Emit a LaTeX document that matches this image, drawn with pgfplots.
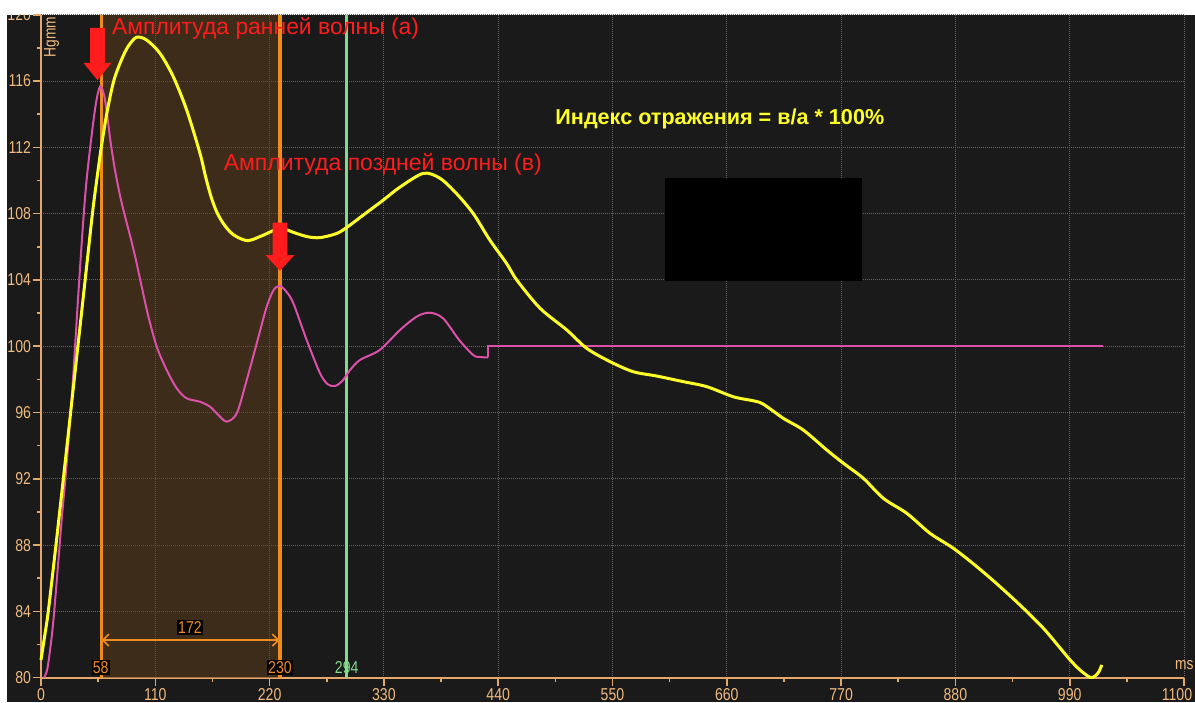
\documentclass[border=0pt]{standalone}
\usepackage{fontspec}
\setmainfont{Liberation Sans}
\newfontfamily\tickfont[FakeStretch=0.82]{Liberation Sans}
\usepackage{pgfplots}
\pgfplotsset{compat=1.18}
\usetikzlibrary{arrows.meta}
\definecolor{bgdark}{RGB}{26,26,26}
\definecolor{shadeT}{RGB}{96,62,26}
\definecolor{tanc}{RGB}{228,168,108}
\definecolor{ticktxt}{RGB}{240,186,128}
\definecolor{gridc}{RGB}{100,100,100}
\definecolor{orangeL}{RGB}{240,140,30}
\definecolor{greenL}{RGB}{128,220,140}
\definecolor{yel}{RGB}{255,255,40}
\definecolor{mag}{RGB}{220,80,170}
\definecolor{redA}{RGB}{255,28,28}
\begin{document}
\begin{tikzpicture}
\fill[white] (0,0) rectangle (597.5pt,351pt);
\fill[bgdark] (3.5pt,0) rectangle (597.5pt,343.5pt);
\begin{scope}
\clip (3.5pt,0) rectangle (597.5pt,343.5pt);
\begin{axis}[
 at={(20.5pt,12.15pt)}, anchor=south west,
 scale only axis, width=571.5pt, height=331.5pt,
 xmin=0, xmax=1100, ymin=80, ymax=120,
 xtick={0,110,...,1100}, ytick={80,84,...,120},
 xticklabels={0,110,220,330,440,550,660,770,880,990,{\makebox[0pt][c]{1100\hspace*{7pt}}}},
 minor xtick={55,165,...,1045}, minor ytick={82,86,...,118},
 axis x line=bottom, axis y line=left,
 axis line style={-, draw=tanc, line width=1pt},
 tick align=outside,
 major tick length=4pt, minor tick length=2pt,
 tick style={draw=tanc, line width=0.8pt},
 minor tick style={draw=tanc, line width=0.8pt},
 grid=major,
 major grid style={draw=gridc, line width=0.5pt, dash pattern=on 0.5pt off 0.5pt},
 ticklabel style={font=\tickfont\fontsize{8.6}{9}\selectfont, text=ticktxt},
 yticklabel style={inner xsep=0.8pt},
 xticklabel style={inner ysep=1.2pt},
 /pgf/number format/assume math mode=true,
 /pgf/number format/1000 sep={},
 clip=false,
]
\fill[shadeT, fill opacity=0.5] (axis cs:58,80) rectangle (axis cs:230,120);

\addplot[orangeL, line width=1.6pt] coordinates {(58,80) (58,120)};
\addplot[orangeL, line width=1.6pt] coordinates {(230,80) (230,120)};
\addplot[greenL, line width=1.6pt] coordinates {(294,80) (294,120)};

\draw[orangeL, line width=0.8pt, {Straight Barb[length=3pt,width=6pt]}-{Straight Barb[length=3pt,width=6pt]}] (axis cs:58.5,82.27) -- (axis cs:229.5,82.27);

% magenta curve
\addplot[mag, line width=1pt, smooth, tension=0.5] coordinates {
(3,80) (6,80.5) (9,81.8) (12,83.5) (16,86.5) (20,89.6) (24,92.4) (28.6,96) (32.7,99.9) (36.6,103.8) (40.7,107.6) (44,110.1) (48.5,112.6) (52,114.3) (54.5,115.2) (56.8,115.66) (59,115.5) (61.5,114.9) (64,113.8) (67,112.3) (71,110.7) (76,109.1) (81,107.8) (86,106.6) (91,105.3) (96.9,103.6) (103.3,101.8) (111.4,99.97) (121,98.56) (130.6,97.46) (140,96.86) (153,96.65) (162.7,96.35) (170.7,95.85) (178.7,95.45) (188.4,95.95) (198,97.96) (207.6,100.17) (217.2,102.38) (224,103.4) (230,103.63) (236,103.3) (242.8,102.6) (255.7,100.37) (268.5,98.37) (276,97.7) (283,97.6) (290,97.9) (297.4,98.56) (307,99.17) (326,99.77) (345.5,100.98) (362,101.8) (374.4,102.02) (387,101.68) (402.5,100.37) (415.9,99.47) (422,99.35) (427.3,99.33) (430.5,99.33)};
\addplot[mag, line width=1pt] coordinates {(430.5,99.33) (430.5,100) (1022,100)};

% yellow curve
\addplot[yel, line width=1.5pt, smooth, tension=0.5] coordinates {
(0,81.07) (3.5,82.5) (7,84) (14.4,88) (21.5,92) (28.5,96) (35.5,100) (42.5,104) (49.5,108) (53.6,110) (58,112) (63.5,114.1) (70,116) (77.6,117.3) (84,118.1) (92,118.64) (101.7,118.47) (114.5,117.67) (127.3,116.26) (140.2,114.25) (153,111.64) (158.5,110.2) (164,108.95) (169.5,108.05) (175.5,107.4) (182,106.9) (188.4,106.6) (199.5,106.37) (214,106.7) (230,107.1) (246,106.8) (257,106.6) (268.5,106.55) (284.6,106.8) (295,107.2) (312,108) (329.5,108.82) (345.5,109.6) (368,110.43) (384,110.13) (400,109.2) (416,108.0) (432,106.4) (448,105.0) (457.8,104.0) (480.3,102.29) (506,100.98) (525.2,99.87) (547.6,99.07) (570,98.46) (592.6,98.2) (618.2,97.86) (640.7,97.56) (666.3,96.95) (686,96.7) (695.2,96.5) (714.4,95.65) (733.7,94.94) (756.2,93.74) (772.2,92.94) (791.4,92.03) (810.7,90.82) (833.2,89.92) (855.6,88.71) (878,87.81) (900.6,86.7) (923,85.49) (945.4,84.19) (964.7,82.98) (978,82.0) (990.4,81.07) (1000,80.46) (1009.6,80.02) (1014.4,80.1) (1018,80.35) (1020.9,80.77)};

% red arrows
\fill[redA] (axis cs:47.2,119.2) -- (axis cs:61.6,119.2) -- (axis cs:61.6,117.1) -- (axis cs:68,117.1) -- (axis cs:54.4,116.05) -- (axis cs:40.8,117.1) -- (axis cs:47.2,117.1) -- cycle;
\fill[redA] (axis cs:223,107.45) -- (axis cs:237,107.45) -- (axis cs:237,105.5) -- (axis cs:244,105.5) -- (axis cs:230,104.55) -- (axis cs:216,105.5) -- (axis cs:223,105.5) -- cycle;

% black box
\fill[black] (axis cs:600.6,103.93) rectangle (axis cs:789.9,110.17);

\node[anchor=base west, text=redA, font=\fontsize{11.45}{14}\selectfont, inner sep=0pt] at (axis cs:68,118.78) {Амплитуда ранней волны (а)};
\node[anchor=base west, text=redA, font=\fontsize{11.5}{14}\selectfont, inner sep=0pt] at (axis cs:175.5,110.63) {Амплитуда поздней волны (в)};
\node[anchor=base west, text=yel, font=\bfseries\fontsize{10.8}{14}\selectfont, inner sep=0pt] at (axis cs:494.7,113.35) {Индекс отражения = в/а * 100\%};

\node[fill=black, text=orangeL, inner sep=0.6pt, font=\tickfont\fontsize{8.6}{9}\selectfont] at (axis cs:57.5,80.6) {58};
\node[fill=black, text=orangeL, inner sep=0.6pt, font=\tickfont\fontsize{8.6}{9}\selectfont] at (axis cs:230,80.6) {230};
\node[text=greenL, inner sep=0.6pt, font=\tickfont\fontsize{8.6}{9}\selectfont] at (axis cs:294.2,80.6) {294};
\node[fill=black, text=orangeL, inner sep=0.8pt, font=\tickfont\fontsize{8.6}{9}\selectfont] at (axis cs:143.4,83.03) {172};

\node[rotate=90, anchor=west, text=ticktxt, font=\tickfont\fontsize{8.4}{9}\selectfont, inner sep=0pt] at (axis cs:10.3,117.4) {Hgmm};
\node[anchor=east, text=ticktxt, font=\tickfont\fontsize{8.4}{9}\selectfont, inner sep=0pt] at (axis cs:1109.5,80.75) {ms};
\end{axis}
\end{scope}
\pgfresetboundingbox
\path[use as bounding box] (0,0) rectangle (597.5pt,351pt);
\end{tikzpicture}
\end{document}
